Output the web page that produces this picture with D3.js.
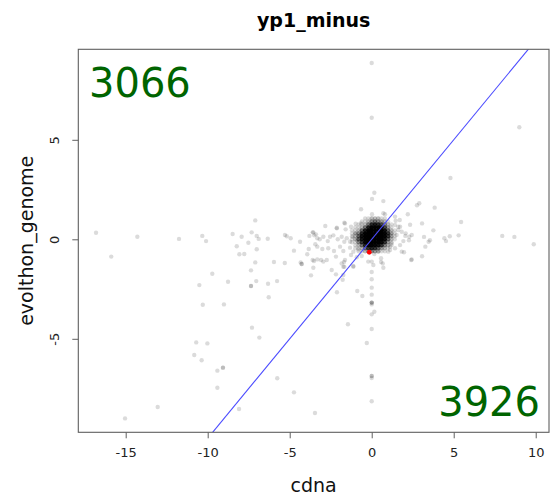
<!DOCTYPE html>
<html>
<head>
<meta charset="utf-8">
<script src="https://cdn.jsdelivr.net/npm/d3@7/dist/d3.min.js"></script>
<style>
  html, body { margin: 0; padding: 0; background: #fff; }
  svg { display: block; font-family: "DejaVu Sans", sans-serif; }
</style>
</head>
<body>
<svg id="chart" width="554" height="497"></svg>
<script>
// Log ratios per gene: cdna (x) against evolthon_genome (y)
const title = "yp1_minus";
const xLabel = "cdna";
const yLabel = "evolthon_genome";
const xTicks = [-15, -10, -5, 0, 5, 10];
const yTicks = [-5, 0, 5];
const countAbove = 3066;
const countBelow = 3926;

// Scattered genes outside the central mass
const scatterPts = [
  [-16.81,0.33],[-14.29,0.13],[-15.88,-0.87],[-11.75,0.02],[-10.33,0.17],[-10.10,-0.09],[-9.72,-1.73],[-10.51,-2.30],[-10.30,-3.29],
  [-7.10,0.95],[-8.48,0.27],[-7.93,0.13],[-7.32,0.35],[-7.01,0.17],[-6.89,0.02],[-6.34,0.03],[-8.23,-0.35],[-7.52,-0.17],[-7.01,-0.50],
  [-8.07,-0.75],[-7.77,-0.74],[-5.18,0.15],[-4.94,0.05],[-4.37,-0.12],[-4.74,-0.57],[-3.80,0.17],[-3.60,0.35],[-3.50,0.20],[-3.32,0.05],
  [-3.44,-0.25],[-3.84,-0.49],[-3.93,-0.75],[-7.10,-1.16],[-5.96,-1.14],[-5.30,-1.19],[-4.33,-1.16],[-4.27,-1.24],[-4.27,-1.24],
  [-3.52,-1.09],[-3.32,-1.01],[-3.56,-1.43],[-3.70,-1.81],[-7.36,-1.56],[-8.76,-2.13],[-7.04,-2.10],[-7.36,-2.35],[-7.36,-2.35],
  [-6.32,-2.23],[-5.77,-2.10],[-6.28,-2.91],[-9.01,-3.27],
  [-10.70,-5.18],[-10.02,-5.23],[-10.82,-5.81],[-10.37,-6.08],[-9.41,-6.60],[-9.07,-6.45],[-9.07,-6.45],[-9.41,-7.46],[-7.30,-4.44],
  [-6.85,-4.94],[-5.76,-6.98],[-4.74,-7.69],[-3.46,-8.73],[-8.09,-8.53],[-13.05,-8.43],[-15.04,-9.00],[-1.45,-4.27],
  [0,-1.12],[0,-1.64],[0,-2.01],[0,-2.43],[0,-2.78],[0,-3.18],[0,-3.18],[0,-3.18],[0,-3.27],[0.16,-3.64],[0,-3.77],[0,-4.51],
  [0,-6.87],[0,-6.87],[0,-6.97],[0,-8.14],[-0.30,-5.21],[-2.18,-1.76],[-1.77,-2.03],[-2.12,-2.66],[-0.88,-2.60],[-0.57,-2.85],
  [-1.73,-1.38],[-1.69,-1.14],[-1.12,-1.34],[0.57,-1.14],[0.71,-1.43],[2.41,-1.04],
  [0,8.86],[0,6.11],[9.0,5.63],[4.8,3.08],[0.16,2.34],[0.02,2.03],[0.71,1.92],[-0.65,1.51],[0.02,1.26],[0.81,1.26],
  [2.76,1.71],[2.90,1.81],[3.84,1.59],[2.2,1.26],[3.07,0.80],[2.34,0.73],[5.45,0.87],[3.76,0.45],[3.19,0.12],[3.55,-0.05],
  [3.47,-0.12],[4.43,0.05],[4.53,-0.09],[4.76,0.15],[5.3,0.2],[7.96,0.17],[8.70,0.12],[9.88,-0.25],[3.27,-0.37],[1.97,-0.65],
  [2.44,-1.01],[3.07,-0.85],[2.27,-0.05],[2.29,0.13],[2.05,0.17],[1.93,-0.09],
  [1.71,0.97],[1.42,1.14],[1.62,0.63],[1.83,0.38],[1.52,0.22],[1.73,-0.29],[1.42,-0.45],[1.12,-0.54],[1.22,-0.20],[2.07,0.30],
  [1.46,0.93],[1.73,0.63],[2.44,0.22],[1.42,0.72],[1.62,0.47],[1.83,-0.62],[1.12,-0.37],[0.71,1.31],
  [-2.83,0.67],[-2.13,0.58],[-1.67,0.83],[-1.59,0.50],[-1.26,0.63],[-0.98,0.78],[-3.56,0.35],[-3.40,0.25],[-3.17,0],[-2.95,0.13],
  [-2.68,-0.09],[-2.54,0.13],[-2.34,0.20],[-2.07,0],[-1.83,0.13],[-1.67,-0.12],[-1.52,0.05],[-1.32,-0.12],[-1.16,0.13],[-0.98,0.30],
  [-0.91,-0.04],[-3.32,-0.37],[-3.01,-0.49],[-2.65,-0.45],[-2.30,-0.59],[-1.93,-0.37],[-1.73,-0.59],[-1.32,-0.42],[-1.12,-0.62],
  [-0.82,-0.50],[-3.60,-1.04],[-3.09,-1.04],[-2.74,-1.04],[-2.18,-0.87],[-1.63,-1.04],[-1.26,-0.79],[-0.91,-0.90],[-0.61,-0.84],
  [0.16,-0.74],[0.40,-0.62],[0.57,-0.95],[-0.21,-1.12],[0.10,-1.29],[0.67,-1.21],[-1.67,-1.38],[-1.12,-1.38],[1.01,-0.62],
  [-1.63,0.80],[-2.13,0.55],[-0.65,0.80],[-2.95,-1.12],[-2.44,-1.54],[-1.83,-1.21],[-1.73,-1.79],[-5.29,0.22]
];

// Central mass: number of genes falling in each small cdna × genome cell
const coreX = [-1.2, -1.0, -0.8, -0.6, -0.4, -0.2, 0, 0.2, 0.4, 0.6, 0.8, 1.0, 1.2, 1.4];
const coreY = [1.05, 0.9, 0.75, 0.6, 0.45, 0.3, 0.15, 0, -0.15, -0.3, -0.45, -0.6];
const coreCounts = [
  [0,0,0,0,1,1,2,2,2,1,1,0,0,0],
  [0,0,0,1,1,2,4,5,4,3,2,1,0,0],
  [0,0,1,1,2,5,12,15,12,8,4,2,1,0],
  [0,1,1,2,5,14,30,35,30,20,8,3,1,0],
  [1,1,2,6,15,35,50,50,45,35,18,6,2,1],
  [1,2,4,12,30,50,60,60,55,45,25,10,3,1],
  [1,2,6,18,40,60,70,70,60,45,25,10,3,1],
  [1,2,6,16,35,55,65,60,50,35,18,6,2,1],
  [1,1,4,10,25,45,50,45,35,20,10,3,1,0],
  [0,1,2,5,12,25,30,25,18,10,4,2,1,0],
  [0,1,1,2,5,10,12,10,6,3,2,1,0,0],
  [0,0,1,1,2,3,4,3,2,1,1,0,0,0]
];

// Highlighted gene
const highlightCdna = [-0.15];
const highlightGenome = [-0.65];

// Reference line genome = cdna
const refIntercept = 0;
const refSlope = 1;

const svg = d3.select("#chart");
const plot = { left: 78.3, right: 549, top: 49.3, bottom: 432.3 };

const x = d3.scaleLinear().domain([-17.89, 10.81]).range([plot.left, plot.right]);
const y = d3.scaleLinear().domain([-9.698, 9.548]).range([plot.bottom, plot.top]);

svg.append("defs").append("clipPath").attr("id", "plotClip")
  .append("rect")
  .attr("x", plot.left).attr("y", plot.top)
  .attr("width", plot.right - plot.left).attr("height", plot.bottom - plot.top);

const g = svg.append("g").attr("clip-path", "url(#plotClip)");

const alpha = 0.14;
const R = 2.2;

// central mass
const coreCells = [];
coreY.forEach((yy, i) => coreX.forEach((xx, j) => {
  const n = coreCounts[i][j];
  if (n > 0) coreCells.push({ x: xx, y: yy, n });
}));

// scattered genes
g.selectAll("circle.pt").data(scatterPts).join("circle")
  .attr("class", "pt")
  .attr("cx", d => x(d[0])).attr("cy", d => y(d[1]))
  .attr("r", R).attr("fill", "#000").attr("fill-opacity", alpha);

g.selectAll("circle.core").data(coreCells).join("circle")
  .attr("class", "core")
  .attr("cx", d => x(d.x)).attr("cy", d => y(d.y))
  .attr("r", R).attr("fill", "#000")
  .attr("fill-opacity", d => 1 - Math.pow(1 - alpha, d.n));

// reference line
const [x0, x1] = x.domain();
g.append("line")
  .attr("x1", x(x0)).attr("y1", y(refIntercept + refSlope * x0))
  .attr("x2", x(x1)).attr("y2", y(refIntercept + refSlope * x1))
  .attr("stroke", "#4b4bff").attr("stroke-width", 1.1);

// highlighted gene
g.selectAll("circle.hl").data(highlightCdna).join("circle")
  .attr("class", "hl")
  .attr("cx", d => x(d)).attr("cy", (d, i) => y(highlightGenome[i]))
  .attr("r", 2.4).attr("fill", "#ff0000");

// plot box
svg.append("rect")
  .attr("x", plot.left).attr("y", plot.top)
  .attr("width", plot.right - plot.left).attr("height", plot.bottom - plot.top)
  .attr("fill", "none").attr("stroke", "#5f5f5f").attr("stroke-width", 1.1);

// axes (plain hyphen for negative labels)
const fmt = d => String(d);
const xAxis = d3.axisBottom(x).tickValues(xTicks).tickSize(6).tickPadding(9).tickFormat(fmt);
const xg = svg.append("g").attr("transform", `translate(0,${plot.bottom})`).call(xAxis);
xg.select(".domain").remove();
xg.selectAll(".tick line").attr("stroke", "#5f5f5f");
xg.selectAll(".tick text").attr("font-size", 13).attr("fill", "#222")
  .attr("font-family", "DejaVu Sans, sans-serif");

const yAxis = d3.axisLeft(y).tickValues(yTicks).tickSize(6).tickFormat(fmt);
const yg = svg.append("g").attr("transform", `translate(${plot.left},0)`).call(yAxis);
yg.select(".domain").remove();
yg.selectAll(".tick line").attr("stroke", "#5f5f5f");
yg.selectAll(".tick text")
  .attr("font-size", 13).attr("fill", "#222")
  .attr("font-family", "DejaVu Sans, sans-serif")
  .attr("x", null).attr("dy", null)
  .attr("text-anchor", "middle")
  .attr("transform", "translate(-19.5,0) rotate(-90)");

// titles
svg.append("text")
  .attr("x", (plot.left + plot.right) / 2).attr("y", 27)
  .attr("text-anchor", "middle").attr("font-weight", "bold").attr("font-size", 19)
  .attr("fill", "#000").text(title);

svg.append("text")
  .attr("x", (plot.left + plot.right) / 2).attr("y", 492)
  .attr("text-anchor", "middle").attr("font-size", 19).attr("fill", "#111").text(xLabel);

svg.append("text")
  .attr("transform", `translate(33,${(plot.top + plot.bottom) / 2}) rotate(-90)`)
  .attr("text-anchor", "middle").attr("font-size", 19).attr("fill", "#111").text(yLabel);

// counts either side of the reference line
svg.append("text")
  .attr("x", 89).attr("y", 97)
  .attr("font-size", 40).attr("fill", "#006400").text(countAbove);

svg.append("text")
  .attr("x", 540).attr("y", 416)
  .attr("text-anchor", "end")
  .attr("font-size", 40).attr("fill", "#006400").text(countBelow);
</script>
</body>
</html>
